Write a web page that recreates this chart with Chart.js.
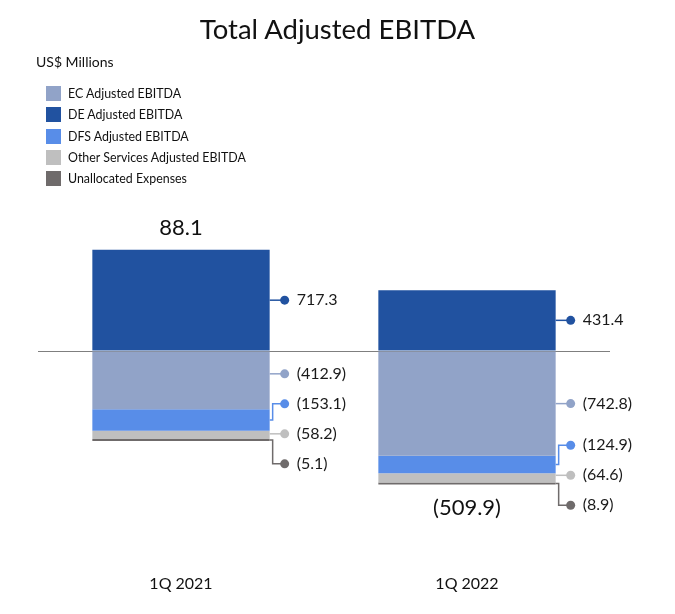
<!DOCTYPE html>
<html>
<head>
<meta charset="utf-8">
<script src="https://cdn.jsdelivr.net/npm/chart.js@4/dist/chart.umd.min.js"></script>
<style>
  html, body { margin: 0; padding: 0; background: #fff; }
  body { width: 675px; height: 614px; position: relative; overflow: hidden; font-family: Lato, "Noto Sans", sans-serif; color: #111; }
  #wrap { position: absolute; left: 0; top: 0; width: 675px; height: 614px; }
  #title { position: absolute; left: 0; width: 675px; top: 12px; text-align: center; font-size: 27.5px; }
  #unit { position: absolute; left: 36px; top: 53px; font-size: 14px; }
  #legend { position: absolute; left: 46px; top: 83px; font-size: 12.4px; }
  #legend div { height: 21.3px; display: flex; align-items: center; }
  #legend span.box { width: 15px; height: 15px; margin-right: 7px; display: inline-block; }
</style>
</head>
<body>
<div id="wrap"><canvas id="chart" width="675" height="614"></canvas></div>
<div id="title">Total Adjusted EBITDA</div>
<div id="unit">US$ Millions</div>
<div id="legend"></div>
<script>
const categories = ["1Q 2021", "1Q 2022"];
const seriesNames = ["EC Adjusted EBITDA", "DE Adjusted EBITDA", "DFS Adjusted EBITDA", "Other Services Adjusted EBITDA", "Unallocated Expenses"];
const ecValues = [-412.9, -742.8];
const deValues = [717.3, 431.4];
const dfsValues = [-153.1, -124.9];
const otherValues = [-58.2, -64.6];
const unallocValues = [-5.1, -8.9];
const totalValues = [88.1, -509.9];
const colors = ["#91A3C8", "#2152A0", "#588DE8", "#BFBFBF", "#6F6B6B"];

const allValues = [ecValues, deValues, dfsValues, otherValues, unallocValues];

// legend as html
document.getElementById("legend").innerHTML = seriesNames.map((n, i) =>
  `<div><span class="box" style="background:${colors[i]}"></span>${n}</div>`).join("");

function fmt(v) {
  return v < 0 ? `(${Math.abs(v).toFixed(1)})` : v.toFixed(1);
}

const calloutPlugin = {
  id: "callouts",
  afterDatasetsDraw(chart) {
    const ctx = chart.ctx;
    const gap = 30;
    categories.forEach((cat, i) => {
      let items = [];
      chart.data.datasets.forEach((ds, d) => {
        const bar = chart.getDatasetMeta(d).data[i];
        const top = Math.min(bar.y, bar.base), bottom = Math.max(bar.y, bar.base);
        items.push({ d, top, bottom, mid: (top + bottom) / 2, right: bar.x + bar.width / 2, value: ds.data[i], color: ds.backgroundColor });
      });
      items.sort((a, b) => a.mid - b.mid);

      // spread labels so they don't overlap
      let clusters = [];
      items.forEach(it => {
        let c = { items: [it], start: it.mid };
        while (clusters.length) {
          const prev = clusters[clusters.length - 1];
          if (prev.start + prev.items.length * gap > c.start) {
            clusters.pop();
            const merged = prev.items.concat(c.items);
            const mean = merged.reduce((s, x) => s + x.mid, 0) / merged.length;
            c = { items: merged, start: mean - (merged.length - 1) * gap / 2 };
          } else break;
        }
        clusters.push(c);
      });
      clusters.forEach(c => c.items.forEach((it, k) => { it.ly = c.start + k * gap; }));

      items.forEach(it => {
        const x0 = it.right;
        const dotX = x0 + 15;
        const elbowX = x0 + 3;
        ctx.save();
        ctx.strokeStyle = it.color;
        ctx.lineWidth = 1.5;
        ctx.beginPath();
        if (it.ly >= it.top && it.ly <= it.bottom) {
          ctx.moveTo(x0, it.ly);
          ctx.lineTo(dotX, it.ly);
        } else {
          ctx.moveTo(x0, it.mid);
          ctx.lineTo(elbowX, it.mid);
          ctx.lineTo(elbowX, it.ly);
          ctx.lineTo(dotX, it.ly);
        }
        ctx.stroke();
        ctx.fillStyle = it.color;
        ctx.beginPath();
        ctx.arc(dotX, it.ly, 4.5, 0, Math.PI * 2);
        ctx.fill();
        ctx.fillStyle = "#1a1a1a";
        ctx.font = "16px Lato, 'Noto Sans', sans-serif";
        ctx.textAlign = "left";
        ctx.textBaseline = "middle";
        ctx.fillText(fmt(it.value), dotX + 12, it.ly);
        ctx.restore();
      });

      // total above / below the bar
      const total = totalValues[i];
      const barTop = Math.min(...items.map(x => x.top));
      const barBottom = Math.max(...items.map(x => x.bottom));
      const cx = chart.getDatasetMeta(0).data[i].x;
      ctx.save();
      ctx.fillStyle = "#111";
      ctx.font = "22px Lato, 'Noto Sans', sans-serif";
      ctx.textAlign = "center";
      ctx.textBaseline = "middle";
      ctx.fillText(fmt(total), cx, total >= 0 ? barTop - 22 : barBottom + 23);
      ctx.restore();
    });
  }
};

new Chart(document.getElementById("chart"), {
  type: "bar",
  data: {
    labels: categories,
    datasets: seriesNames.map((n, k) => ({
      label: n,
      data: allValues[k],
      backgroundColor: colors[k],
      borderWidth: 0,
      minBarLength: k === 4 ? 2 : 0,
      barPercentage: 0.62,
      categoryPercentage: 1
    }))
  },
  options: {
    responsive: false,
    animation: false,
    layout: { padding: { left: 38, right: 65, top: 210, bottom: 11.5 } },
    plugins: { legend: { display: false }, tooltip: { enabled: false } },
    scales: {
      x: {
        stacked: true,
        grid: { display: false, drawTicks: false },
        border: { display: false },
        ticks: { padding: 12, color: "#111", font: { family: "Lato", size: 16 } },
        afterFit(scale) { scale.height = 40; }
      },
      y: {
        stacked: true,
        min: -1500,
        max: 1000,
        ticks: { display: false, stepSize: 500 },
        grid: { drawTicks: false, color: c => c.tick && c.tick.value === 0 ? "#7f7f7f" : "transparent", lineWidth: 1 },
        border: { display: false },
        afterFit(scale) { scale.width = 0; }
      }
    }
  },
  plugins: [calloutPlugin]
});
</script>
</body>
</html>
